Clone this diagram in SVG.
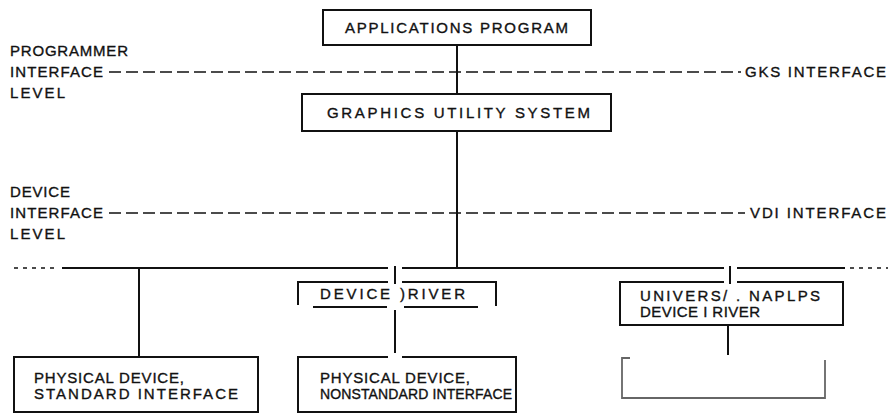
<svg xmlns="http://www.w3.org/2000/svg" width="890" height="417" viewBox="0 0 890 417">
<style>
text{font-family:"Liberation Sans",Arial,sans-serif;font-size:15px;fill:#111;stroke:#111;stroke-width:0.35}
text.nar{font-size:14px}
.ln{stroke:#111;stroke-width:2;fill:none}
.dash{stroke:#111;stroke-width:1.6;stroke-dasharray:12 5;fill:none}
.dot{stroke:#111;stroke-width:1.6;stroke-dasharray:4 5;fill:none}
.faint{stroke:#666;stroke-width:1.8;fill:none}
</style>
<rect width="890" height="417" fill="#fff"/>
<g id="levels">
<text x="10" y="56" textLength="118" lengthAdjust="spacing">PROGRAMMER</text>
<text x="10" y="77" textLength="93" lengthAdjust="spacing">INTERFACE</text>
<text x="10" y="98" textLength="55" lengthAdjust="spacing">LEVEL</text>
<text x="745" y="77" textLength="141" lengthAdjust="spacing">GKS INTERFACE</text>
<text x="10" y="197" textLength="60" lengthAdjust="spacing">DEVICE</text>
<text x="10" y="218" textLength="93" lengthAdjust="spacing">INTERFACE</text>
<text x="10" y="239" textLength="55" lengthAdjust="spacing">LEVEL</text>
<text x="750" y="218" textLength="136" lengthAdjust="spacing">VDI INTERFACE</text>
<path class="dash" d="M109 72H741"/>
<path class="dash" d="M109 213H745"/>
</g>
<g id="connectors">
<path class="ln" d="M457 45V94M457 131V268"/>
<path class="dot" d="M14 268H58"/>
<path class="ln" d="M62 268H388M402 268H724M737 268H845"/>
<path class="dot" d="M850 268H888"/>
<path class="ln" d="M395 266V284M730 266V284"/>
<path class="ln" d="M139 268V357"/>
<path class="ln" d="M395 310V353"/>
<path class="ln" d="M728 325V355"/>
</g>
<g id="app">
<rect class="ln" x="323" y="10" width="268" height="35"/>
<text x="345" y="33" textLength="223" lengthAdjust="spacing">APPLICATIONS PROGRAM</text>
</g>
<g id="gus">
<rect class="ln" x="302" y="94" width="309" height="37"/>
<text x="327" y="118" textLength="263" lengthAdjust="spacing">GRAPHICS UTILITY SYSTEM</text>
</g>
<g id="pd-standard">
<rect class="ln" x="14" y="357" width="244" height="55"/>
<text x="34" y="383" textLength="150" lengthAdjust="spacing">PHYSICAL DEVICE,</text>
<text x="34" y="399" textLength="204" lengthAdjust="spacing">STANDARD INTERFACE</text>
</g>
<g id="device-driver">
<path class="ln" d="M298 305V282H388M402 282H496V306M313 307H387M404 307H478"/>
<text x="320" y="299" textLength="145" lengthAdjust="spacing">DEVICE )RIVER</text>
</g>
<g id="pd-nonstandard">
<path class="ln" d="M388 357H298V412H516V357H402"/>
<text x="320" y="383" textLength="150" lengthAdjust="spacing">PHYSICAL DEVICE,</text>
<text class="nar" x="320" y="399" textLength="192" lengthAdjust="spacing">NONSTANDARD INTERFACE</text>
</g>
<g id="naplps-driver">
<path class="ln" d="M724 282H620V325H843V282H737"/>
<text x="640" y="301" textLength="180" lengthAdjust="spacing">UNIVERS/ . NAPLPS</text>
<text x="640" y="317" textLength="120" lengthAdjust="spacing">DEVICE I RIVER</text>
</g>
<g id="empty-device">
<path class="faint" d="M630 358H622V398H825V360"/>
</g>
</svg>
